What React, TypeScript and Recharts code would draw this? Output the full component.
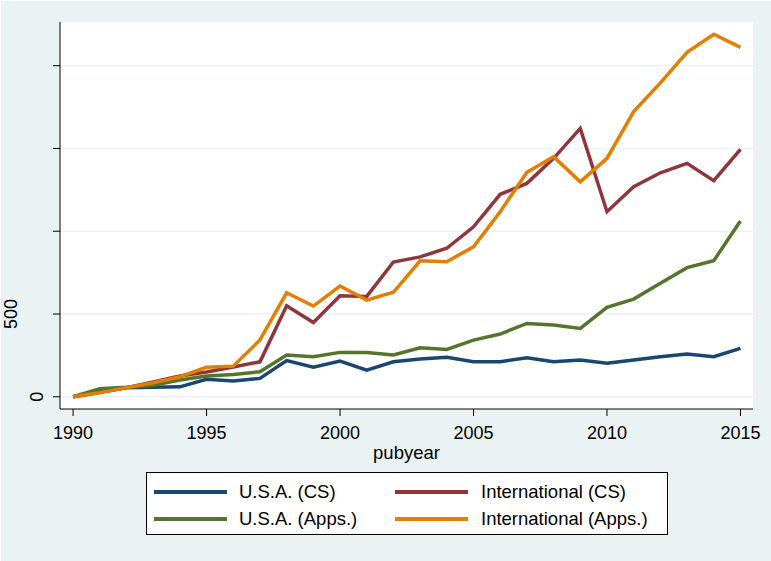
import React from "react";
import { LineChart, Line, XAxis, YAxis, CartesianGrid, Legend } from "recharts";

const years = [
  1990, 1991, 1992, 1993, 1994, 1995, 1996, 1997, 1998, 1999, 2000, 2001, 2002,
  2003, 2004, 2005, 2006, 2007, 2008, 2009, 2010, 2011, 2012, 2013, 2014, 2015,
];
const usaCS = [
  0, 30, 55, 58, 60, 105, 95, 111, 218, 178, 216, 161, 211, 228, 238, 212, 212,
  236, 212, 222, 202, 222, 242, 258, 242, 292,
];
const intlCS = [
  0, 25, 55, 90, 125, 150, 180, 211, 550, 448, 610, 606, 814, 845, 897, 1027,
  1223, 1289, 1440, 1621, 1118, 1269, 1353, 1410, 1305, 1495,
];
const usaApps = [
  0, 48, 57, 70, 101, 125, 135, 151, 252, 242, 268, 268, 252, 296, 286, 342,
  379, 443, 433, 413, 540, 590, 685, 780, 822, 1062,
];
const intlApps = [
  0, 25, 55, 85, 121, 178, 185, 343, 628, 548, 669, 584, 631, 821, 816, 906,
  1118, 1356, 1450, 1298, 1440, 1723, 1896, 2081, 2190, 2111,
];

const yTicks = [0, 500, 1000, 1500, 2000];
const xTicks = [1990, 1995, 2000, 2005, 2010, 2015];

const SERIES = [
  { key: "usaCS", name: "U.S.A. (CS)", color: "#1a476f" },
  { key: "intlCS", name: "International (CS)", color: "#90353b" },
  { key: "usaApps", name: "U.S.A. (Apps.)", color: "#55752f" },
  { key: "intlApps", name: "International (Apps.)", color: "#e37e00" },
];

const data = years.map((y, i) => ({
  year: y,
  usaCS: usaCS[i],
  intlCS: intlCS[i],
  usaApps: usaApps[i],
  intlApps: intlApps[i],
}));

const FONT = "'Liberation Sans', Arial, sans-serif";

// only 0 and 500 carry a label in the original
function YTick(props: any) {
  const { y, payload } = props;
  if (payload.value > 500) return null;
  const tx = payload.value === 0 ? 43.5 : 17;
  return (
    <text
      x={tx}
      y={y}
      transform={`rotate(-90 ${tx} ${y})`}
      textAnchor="middle"
      fontSize={18}
      fill="#000"
      fontFamily={FONT}
    >
      {payload.value}
    </text>
  );
}

function LegendBox() {
  return (
    <div
      style={{
        width: 522,
        height: 63,
        background: "#fff",
        border: "1px solid #000",
        boxSizing: "border-box",
        display: "grid",
        gridTemplateColumns: "241px 270px",
        gridTemplateRows: "27px 27px",
        padding: "5px 0 0 7px",
        fontFamily: FONT,
        fontSize: 18.5,
        color: "#000",
      }}
    >
      {SERIES.map((s) => (
        <div key={s.key} style={{ display: "flex", alignItems: "center" }}>
          <span
            style={{
              display: "inline-block",
              width: 73,
              height: 4,
              background: s.color,
              marginRight: s.key.startsWith("intl") ? 13 : 12,
            }}
          />
          <span>{s.name}</span>
        </div>
      ))}
    </div>
  );
}

export default function App() {
  return (
    <div
      style={{
        position: "absolute",
        left: 0,
        top: 0,
        width: 771,
        height: 561,
        background: "#eaf2f3",
        borderTop: "1px solid #fff",
        borderLeft: "1px solid #fff",
        boxSizing: "border-box",
      }}
    >
      <div style={{ position: "absolute", left: -1, top: -1 }}>
        <LineChart
          width={771}
          height={561}
          data={data}
          margin={{ top: 22, right: 18, left: 10, bottom: 112 }}
        >
          <CartesianGrid
            vertical={false}
            stroke="#eaf2f3"
            strokeWidth={1.5}
            fill="#ffffff"
            horizontalValues={yTicks}
          />
          <XAxis
            dataKey="year"
            type="number"
            domain={[1989.51, 2015.47]}
            ticks={xTicks}
            height={40}
            tickSize={7}
            tickMargin={10}
            stroke="#000"
            tick={{ fontSize: 18, fill: "#000", fontFamily: FONT }}
            label={{
              value: "pubyear",
              position: "insideBottom",
              offset: -10,
              fontSize: 18.5,
              fill: "#000",
              fontFamily: FONT,
            }}
          />
          <YAxis
            type="number"
            domain={[-74, 2264]}
            ticks={yTicks}
            width={50}
            tickSize={7}
            stroke="#000"
            tick={<YTick />}
          />
          <Legend
            layout="horizontal"
            verticalAlign="middle"
            align="center"
            wrapperStyle={{ position: "absolute", left: 146, top: 472, width: 522 }}
            content={() => <LegendBox />}
          />
          {SERIES.map((s) => (
            <Line
              key={s.key}
              dataKey={s.key}
              name={s.name}
              stroke={s.color}
              strokeWidth={3.5}
              dot={false}
              type="linear"
              isAnimationActive={false}
            />
          ))}
        </LineChart>
      </div>
    </div>
  );
}
